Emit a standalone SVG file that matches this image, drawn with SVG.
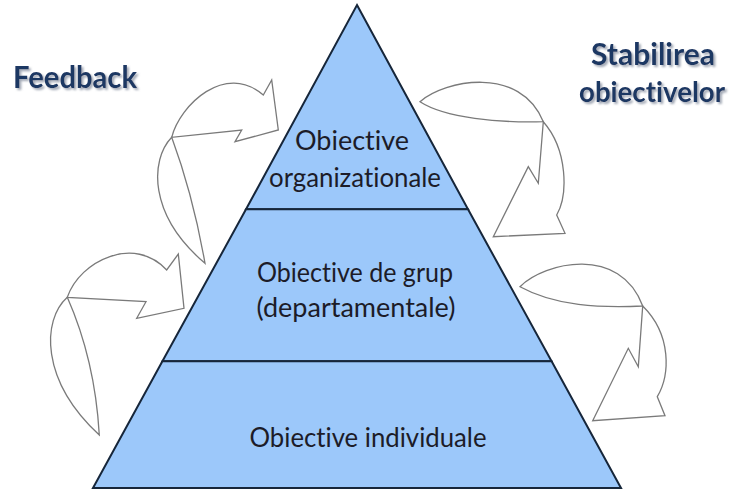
<svg xmlns="http://www.w3.org/2000/svg" width="742" height="492" viewBox="0 0 742 492">
<style>
.tier{fill:#9cc8fa;stroke:#16263a;stroke-width:2;stroke-linejoin:miter}
.t{font-family:Lato,"Open Sans","Liberation Sans",sans-serif;font-size:27px;fill:#1c1c28;text-anchor:middle;font-variant-ligatures:none;font-feature-settings:"liga" 0,"dlig" 0}
.h{font-family:Lato,"Open Sans","Liberation Sans",sans-serif;font-weight:bold;font-size:30px;fill:#1f3864;text-anchor:middle;filter:url(#sh);font-variant-ligatures:none;font-feature-settings:"liga" 0,"dlig" 0}
.arr{fill:#ffffff;stroke:#7a7a7a;stroke-width:1.3;stroke-linejoin:miter}
</style>
<defs>
<filter id="sh" x="-20%" y="-50%" width="140%" height="200%">
<feDropShadow dx="2" dy="2" stdDeviation="0.8" flood-color="#8a93a3" flood-opacity="0.8"/>
</filter>
</defs>
<rect width="742" height="492" fill="#ffffff"/>
<g id="connectors">
<g id="arrow-feedback-top">
<path class="arr" d="M171.7,137.3 C150,160 148,215 205,263.3 Q193,195 171.7,137.3 Z"/>
<path class="arr" d="M171.7,137.3 C180,105 225,62 263.3,95 L271.7,80 L278.3,130 L235,141.7 L241.7,130 Z"/>
</g>
<g id="arrow-feedback-bottom">
<path class="arr" d="M67.3,297.3 C42,320 40,380 99.3,435 Q95,360 67.3,297.3 Z"/>
<path class="arr" d="M67.3,297.3 C80,260 135,235 166.7,270 L178.3,254 L184,308.3 L136.7,318.3 L146,301.7 Z"/>
</g>
<g id="arrow-stabilire-top">
<path class="arr" d="M420,101.7 C445,80 520,65 543.3,121.7 C500,123 445,118 420,101.7 Z"/>
<path class="arr" d="M543.3,121.7 L538.3,183.3 L528.3,166.7 L493.3,236.7 L565,233.3 L556.7,215 C568,195 568,150 543.3,121.7 Z"/>
</g>
<g id="arrow-stabilire-bottom">
<path class="arr" d="M520,286.7 C545,262 620,245 642.7,306 C600,308 555,306 520,286.7 Z"/>
<path class="arr" d="M642.7,306 L638.3,366.7 L628.3,348.3 L592.7,420.7 L665,415.7 L657.3,396.7 C670,375 672,335 642.7,306 Z"/>
</g>
</g>
<g id="tier-organizational">
<polygon class="tier" points="357,5 468,209.3 246,209.3"/>
<text class="t" x="352" y="150">Obiective</text>
<text class="t" x="355" y="187" textLength="172" lengthAdjust="spacingAndGlyphs">organizationale</text>
</g>
<g id="tier-group">
<polygon class="tier" points="246,209.3 468,209.3 551.6,361.3 162.4,361.3"/>
<text class="t" x="355" y="282" textLength="196" lengthAdjust="spacingAndGlyphs">Obiective de grup</text>
<text class="t" x="356" y="317">(departamentale)</text>
</g>
<g id="tier-individual">
<polygon class="tier" points="162.4,361.3 551.6,361.3 621,488 93,488"/>
<text class="t" x="368" y="447" textLength="237" lengthAdjust="spacingAndGlyphs">Obiective individuale</text>
</g>
<g id="label-feedback">
<text class="h" x="75" y="88" textLength="124" lengthAdjust="spacingAndGlyphs">Feedback</text>
</g>
<g id="label-stabilirea">
<text class="h" x="653" y="65" textLength="124" lengthAdjust="spacingAndGlyphs">Stabilirea</text>
<text class="h" x="652" y="102" style="font-size:28px" textLength="146" lengthAdjust="spacingAndGlyphs">obiectivelor</text>
</g>
</svg>
